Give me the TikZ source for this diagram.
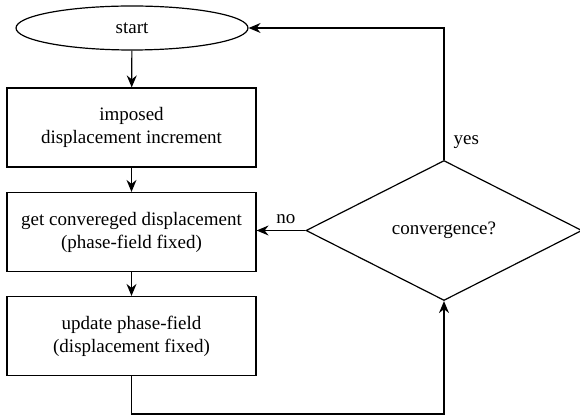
\documentclass[tikz,border=0pt]{standalone}
\usepackage{fontspec}
\setmainfont{Liberation Serif}
\usepackage{tikz}
\usetikzlibrary{
    arrows.meta,
    shapes,
    calc,
    positioning
}

\begin{document}
\begin{tikzpicture}[x=0.5pt, y=0.5pt,
        line width=0.6pt,
        >={Stealth[length=6pt, width=5pt, inset=2pt]},
        every node/.style={font=\fontsize{9.5}{11.5}\selectfont, align=center},
        proc/.style={draw, rectangle, minimum width=124.5pt, minimum height=39.5pt, inner sep=0pt},
        term/.style={draw, ellipse, minimum width=116pt, minimum height=22pt, inner sep=0pt},
        decide/.style={draw, diamond, minimum width=138pt, minimum height=70pt, inner sep=0pt, aspect=2}]
                    \useasboundingbox (0, 0) rectangle (580, 418);

                    \node[term] (start) at (132, 390) {start};
                    \node[proc] (incr) at (131.5, 290.5) {imposed\\displacement increment};
                    \node[proc] (disp) at (131.5, 186) {get convereged displacement\\(phase-field fixed)};
                    \node[proc] (phase) at (131.5, 82) {update phase-field\\(displacement fixed)};
                    \node[decide] (conv) at (444, 187.5) {convergence?};

                    \node[anchor=west, inner sep=0pt] (yes) at (453, 276) {yes};
                    \node[inner sep=0pt] (no) at (286, 199) {no};

                    \draw
                    (start) edge[->] (incr)
                    (incr) edge[->] (disp)
                    (disp) edge[->] (phase);

                    \draw[->] (conv.north) |- (start.east);
                    \draw[->] (conv.west) -- (conv.west -| disp.east);
                    \draw[->] (phase.south) -- ++(0, -38) -| (conv.south);
                \end{tikzpicture}
\end{document}
